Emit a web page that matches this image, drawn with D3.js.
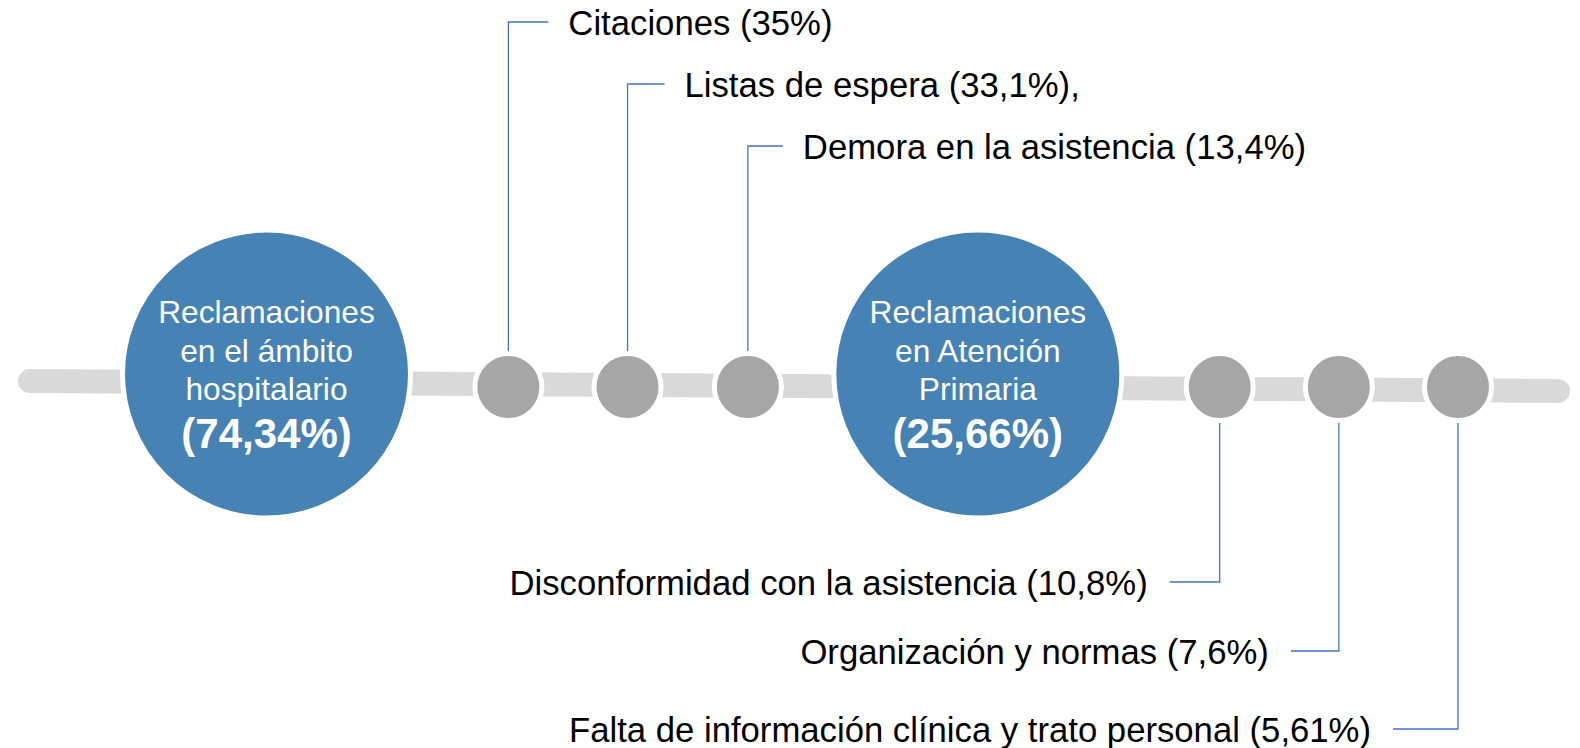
<!DOCTYPE html>
<html>
<head>
<meta charset="utf-8">
<script src="https://cdn.jsdelivr.net/npm/d3@7"></script>
<style>
  body { margin: 0; background: #fff; }
  svg { display: block; font-family: "Liberation Sans", Arial, sans-serif; }
</style>
</head>
<body>
<script>
var width = 1580,
    height = 748;

// data
var groupLines = [
    ["Reclamaciones", "en el ámbito", "hospitalario"],
    ["Reclamaciones", "en Atención", "Primaria"]
];
var groupShares = [74.34, 25.66];
var itemLabels = ["Citaciones", "Listas de espera", "Demora en la asistencia",
    "Disconformidad con la asistencia", "Organización y normas",
    "Falta de información clínica y trato personal"];
var itemShares = [35, 33.1, 13.4, 10.8, 7.6, 5.61];
var itemSuffix = ["", ",", "", "", "", ""];
var itemGroup = [0, 0, 0, 1, 1, 1];

// layout (slot index along the track, label rows)
var groupSlot = [0, 5.97];
var itemSlot = [2.03, 3.03, 4.04, 8, 9, 10];
var labelRowY = [22, 84, 146, 582, 651, 729];
var armLength = [40, 37, 35, 50, 48, 65];
var bigY = 374, smallY = 387;

function pct(v) { return String(v).replace(".", ",") + "%"; }

var svg = d3.select("body").append("svg")
    .attr("width", width)
    .attr("height", height);

var x = d3.scaleLinear().domain([0, 10]).range([266.5, 1458]);
var trackY = d3.scaleLinear().domain([30, 1558]).range([381, 391]);

// grey track
svg.append("line")
    .attr("x1", 30).attr("y1", trackY(30))
    .attr("x2", 1558).attr("y2", trackY(1558))
    .style("stroke", "#d9d9d9")
    .style("stroke-width", 24)
    .style("stroke-linecap", "round");

// connectors
var items = itemLabels.map(function (d, i) {
    return { label: d, share: itemShares[i], suffix: itemSuffix[i],
             top: itemGroup[i] === 0, cx: x(itemSlot[i]), ry: labelRowY[i], arm: armLength[i] };
});

svg.append("g").selectAll("path")
    .data(items)
    .enter().append("path")
    .attr("d", function (d) {
        if (d.top) {
            return "M" + d.cx + "," + (smallY - 34) + "V" + d.ry + "H" + (d.cx + d.arm);
        }
        return "M" + d.cx + "," + (smallY + 34) + "V" + d.ry + "H" + (d.cx - d.arm);
    })
    .style("fill", "none")
    .style("stroke", "#4472c4")
    .style("stroke-width", 1.3);

svg.append("g").selectAll("text")
    .data(items)
    .enter().append("text")
    .attr("x", function (d) { return d.top ? d.cx + d.arm + 20 : d.cx - d.arm - 22; })
    .attr("y", function (d) { return d.ry + 12.5; })
    .attr("text-anchor", function (d) { return d.top ? "start" : "end"; })
    .style("font-size", "34.7px")
    .style("fill", "#000")
    .text(function (d) { return d.label + " (" + pct(d.share) + ")" + d.suffix; });

// small grey circles
svg.append("g").selectAll("circle")
    .data(items)
    .enter().append("circle")
    .attr("cx", function (d) { return d.cx; })
    .attr("cy", smallY)
    .attr("r", 33.5)
    .style("fill", "#a6a6a6")
    .style("stroke", "#fff")
    .style("stroke-width", 5);

// big blue circles
var groups = groupLines.map(function (d, i) {
    return { lines: d, share: groupShares[i], cx: x(groupSlot[i]) };
});

var g = svg.append("g").selectAll("g")
    .data(groups)
    .enter().append("g")
    .attr("transform", function (d) { return "translate(" + d.cx + "," + bigY + ")"; });

g.append("circle")
    .attr("r", 144)
    .style("fill", "#4682b4")
    .style("stroke", "#fff")
    .style("stroke-width", 5);

g.selectAll("text.line")
    .data(function (d) { return d.lines; })
    .enter().append("text")
    .attr("class", "line")
    .attr("y", function (d, i) { return -51 + i * 38.5; })
    .attr("text-anchor", "middle")
    .style("font-size", "31.7px")
    .style("fill", "#fff")
    .text(function (d) { return d; });

g.append("text")
    .attr("y", 74)
    .attr("text-anchor", "middle")
    .style("font-size", "42px")
    .style("font-weight", "bold")
    .style("fill", "#fff")
    .text(function (d) { return "(" + pct(d.share) + ")"; });
</script>
</body>
</html>
